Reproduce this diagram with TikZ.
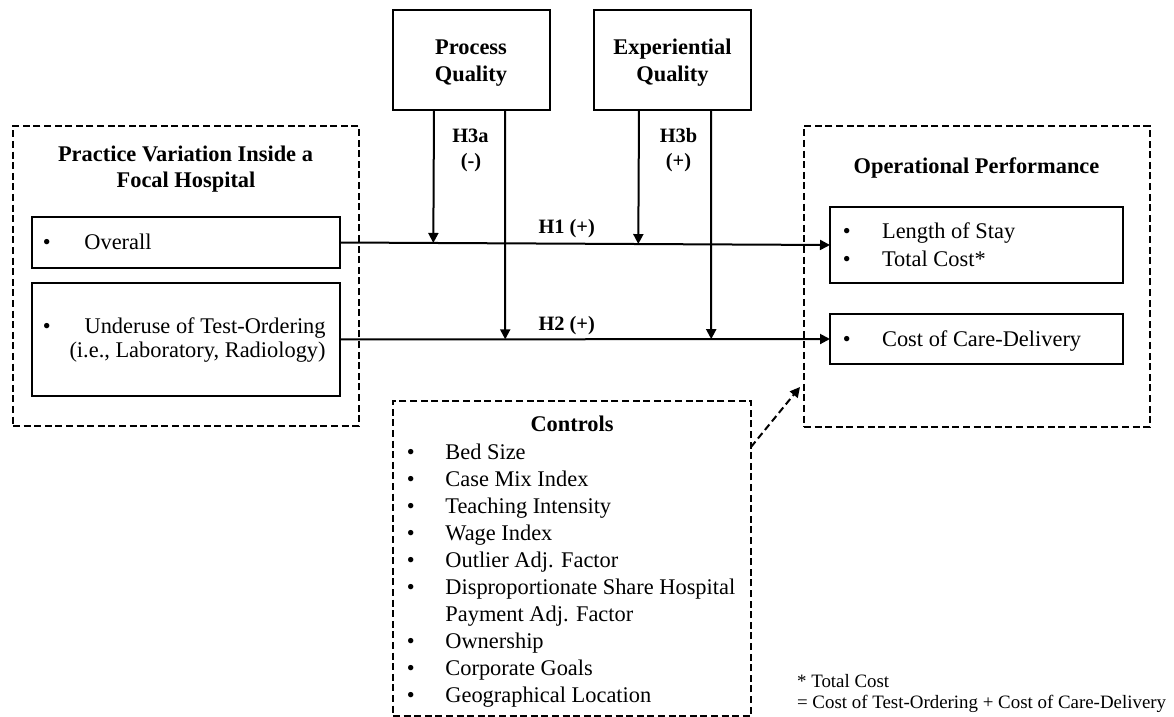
\documentclass[tikz,border=0pt]{standalone}
\usepackage{fontspec}
\setmainfont{Liberation Serif}
\usetikzlibrary{arrows.meta,calc}
\begin{document}
\begin{tikzpicture}[x=0.5pt,y=-0.5pt,
  hbox/.style={draw,line width=1.3pt,inner sep=0,outer sep=0},
  dbox/.style={draw,line width=0.85pt,dash pattern=on 3.5pt off 1.8pt,inner sep=0,outer sep=0},
  txt/.style={inner sep=0,anchor=base,font=\fontsize{11.2}{13.5}\selectfont},
  txtw/.style={txt,anchor=base west},
  txte/.style={txt,anchor=base east},
  btxt/.style={inner sep=0,anchor=base,font=\fontsize{11.2}{13.5}\selectfont\bfseries},
  hlab/.style={inner sep=0,anchor=base,font=\fontsize{10.2}{12.5}\selectfont\bfseries},
  note/.style={inner sep=0,anchor=base west,font=\fontsize{9.45}{11}\selectfont},
  arr/.style={line width=1pt,-{Triangle[length=5pt,width=5pt]}},
  darr/.style={line width=1pt,dash pattern=on 3.5pt off 2pt,-{Triangle[length=5pt,width=5pt]}}
]
\useasboundingbox (0,0) rectangle (1174,717);

% moderators
\node[hbox,minimum width=78.5pt,minimum height=50pt] (pq) at (471.5,60) {};
\node[hbox,minimum width=78.5pt,minimum height=50pt] (eq) at (672.5,60) {};
\node[btxt] (pq1) at (471,55) {Process};
\node[btxt] (pq2) at (471,82) {Quality};
\node[btxt] (eq1) at (672.5,55) {Experiential};
\node[btxt] (eq2) at (672.5,82) {Quality};

% practice variation
\node[dbox,minimum width=173pt,minimum height=150pt] (prac) at (186,276) {};
\node[btxt] (pr1) at (185.5,162) {Practice Variation Inside a};
\node[btxt] (pr2) at (186,188) {Focal Hospital};
\node[hbox,minimum width=154pt,minimum height=25.5pt] (ov) at (186,242.5) {};
\node[txt] (ovb) at (46.7,249.3) {•};
\node[txtw] (ovt) at (84,249.3) {Overall};
\node[hbox,minimum width=154pt,minimum height=56.5pt] (und) at (186,339.5) {};
\node[txt] (undb) at (46.7,333.3) {•};
\node[txte] (und1) at (326,333.3) {Underuse of Test-Ordering};
\node[txte] (und2) at (326,357.3) {(i.e., Laboratory, Radiology)};

% operational performance
\node[dbox,minimum width=173pt,minimum height=150.5pt] (op) at (977,276.5) {};
\node[btxt] (opt) at (976.5,174) {Operational Performance};
\node[hbox,minimum width=146.5pt,minimum height=38pt] (los) at (976.5,245) {};
\node[txt] (losb1) at (846.7,239) {•};
\node[txtw] (lost1) at (881.7,239) {Length of Stay};
\node[txt] (losb2) at (846.7,266.5) {•};
\node[txtw] (lost2) at (881.7,266.5) {Total Cost*};
\node[hbox,minimum width=146.5pt,minimum height=25pt] (ccd) at (976.5,339) {};
\node[txt] (ccdb) at (846.7,346.7) {•};
\node[txtw] (ccdt) at (881.7,346.7) {Cost of Care-Delivery};

% controls
\node[dbox,minimum width=179pt,minimum height=157.5pt] (ctl) at (572,558.5) {};
\node[btxt] (ctlt) at (572,431) {Controls};
\foreach \t [count=\i] in {Bed Size,Case Mix Index,Teaching Intensity,Wage Index,
  Outlier Adj. Factor,Disproportionate Share Hospital,Payment Adj. Factor,
  Ownership,Corporate Goals,Geographical Location}{
  \node[txtw] (ci\i) at (445,{459.5+27*(\i-1)}) {\t};
  \ifnum\i=7\else\node[txt] (cb\i) at (410.7,{459.5+27*(\i-1)}) {•};\fi
}

% main effects
\draw[arr] (ov.east) -- (los.west);
\draw[arr] (und.east) -- (ccd.west);
\node[hlab] (h1) at (566.7,233.3) {H1 (+)};
\node[hlab] (h2) at (566.7,330) {H2 (+)};

% moderating paths
\coordinate (pqa) at ($(pq.south)+(-37.5,0)$);
\coordinate (pqb) at ($(pq.south)+(33.5,0)$);
\coordinate (eqa) at ($(eq.south)+(-33.5,0)$);
\coordinate (eqb) at ($(eq.south)+(38.5,0)$);
\draw[arr] (pqa) -- ($(ov.east)!(pqa)!(los.west)$);
\draw[arr] (pqb) -- ($(und.east)!(pqb)!(ccd.west)$);
\draw[arr] (eqa) -- ($(ov.east)!(eqa)!(los.west)$);
\draw[arr] (eqb) -- ($(und.east)!(eqb)!(ccd.west)$);
\node[hlab] (h3a) at (470.5,143) {H3a};
\node[hlab] (h3as) at (471,168) {(-)};
\node[hlab] (h3b) at (678.5,143) {H3b};
\node[hlab] (h3bs) at (678.5,168) {(+)};

% controls path
\coordinate (cfrom) at ($(ctl.north east)+(0,46)$);
\coordinate (cto) at ($(op.south west)+(-4,-40)$);
\draw[darr] (cfrom) -- (cto);

% footnote
\node[note] (fn1) at (796.7,687) {* Total Cost};
\node[note] (fn2) at (796.7,708.5) {= Cost of Test-Ordering + Cost of Care-Delivery};
\end{tikzpicture}
\end{document}
